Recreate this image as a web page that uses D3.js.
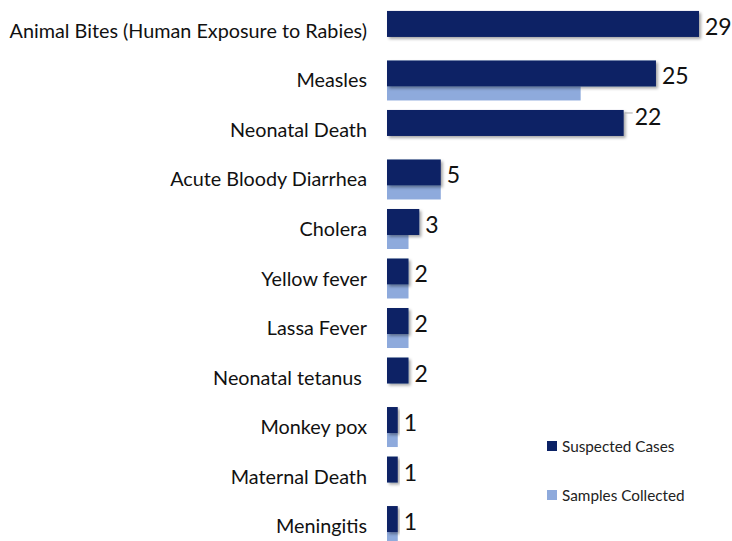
<!DOCTYPE html>
<html>
<head>
<meta charset="utf-8">
<script src="https://cdn.jsdelivr.net/npm/d3@7"></script>
<style>
  body { margin: 0; background: #fff; }
  text { font-family: Lato, "Open Sans", sans-serif; white-space: pre; }
</style>
</head>
<body>
<svg id="chart" width="732" height="541"></svg>
<script>
const categories = [
  "Animal Bites (Human Exposure to Rabies)",
  "Measles",
  "Neonatal Death",
  "Acute Bloody Diarrhea",
  "Cholera",
  "Yellow fever",
  "Lassa Fever",
  "Neonatal tetanus ",
  "Monkey pox",
  "Maternal Death",
  "Meningitis"
];
const suspectedCases = [29, 25, 22, 5, 3, 2, 2, 2, 1, 1, 1];
const samplesCollected = [0, 18, 0, 5, 2, 2, 2, 0, 1, 0, 1];
const seriesNames = ["Suspected Cases", "Samples Collected"];
const colors = ["#0b2265", "#8eaadc"];

const svg = d3.select("#chart");

// drop shadow for dark bars
const defs = svg.append("defs");
defs.append("filter")
  .attr("id", "shadow")
  .attr("x", "-10%").attr("y", "-20%")
  .attr("width", "130%").attr("height", "160%")
  .append("feDropShadow")
  .attr("dx", 2).attr("dy", 2)
  .attr("stdDeviation", 1.5)
  .attr("flood-color", "#000")
  .attr("flood-opacity", 0.35);

const x = d3.scaleLinear().domain([0, 29]).range([387, 699]);
const y = d3.scaleBand()
  .domain(categories)
  .range([6, 551])
  .paddingInner(0.192)
  .paddingOuter(0.1);

const darkH = y.bandwidth() * 0.65;
const lightH = y.bandwidth() - darkH;

const rows = categories.map((c, i) => ({
  cat: c,
  sus: suspectedCases[i],
  sam: samplesCollected[i]
}));

// light bars (samples)
svg.append("g")
  .selectAll("rect")
  .data(rows.filter(d => d.sam > 0))
  .join("rect")
  .attr("x", x(0))
  .attr("y", d => y(d.cat) + darkH)
  .attr("width", d => x(d.sam) - x(0))
  .attr("height", lightH)
  .attr("fill", colors[1]);

// dark bars (suspected)
svg.append("g")
  .selectAll("rect")
  .data(rows)
  .join("rect")
  .attr("x", x(0))
  .attr("y", d => y(d.cat))
  .attr("width", d => x(d.sus) - x(0))
  .attr("height", darkH)
  .attr("fill", colors[0])
  .attr("filter", "url(#shadow)");

// category labels
svg.append("g")
  .selectAll("text")
  .data(rows)
  .join("text")
  .attr("x", 367)
  .attr("y", d => y(d.cat) + y.bandwidth() / 2 - 1)
  .attr("text-anchor", "end")
  .attr("dominant-baseline", "central")
  .attr("font-size", 19.8)
  .attr("fill", "#111")
  .text(d => d.cat);

// value labels (the 22 one was nudged up in the original, with a leader)
const nudge = d => (d.sus === 22 ? -7 : 2);
svg.append("g")
  .selectAll("text")
  .data(rows)
  .join("text")
  .attr("x", d => x(d.sus) + (d.sus === 22 ? 11 : 6))
  .attr("y", d => y(d.cat) + darkH / 2 + nudge(d))
  .attr("dominant-baseline", "central")
  .attr("font-size", 23)
  .attr("fill", "#111")
  .text(d => d.sus);

rows.filter(d => d.sus === 22).forEach(d => {
  svg.append("line")
    .attr("x1", x(d.sus) + 1)
    .attr("x2", x(d.sus) + 9)
    .attr("y1", y(d.cat) + darkH / 2 - 10)
    .attr("y2", y(d.cat) + darkH / 2 - 10)
    .attr("stroke", "#aaa")
    .attr("stroke-width", 1);
});

// legend
const legend = svg.append("g")
  .selectAll("g")
  .data(seriesNames)
  .join("g")
  .attr("transform", (d, i) => `translate(547, ${441 + i * 49})`);

legend.append("rect")
  .attr("width", 10)
  .attr("height", 10)
  .attr("fill", (d, i) => colors[i]);

legend.append("text")
  .attr("x", 15)
  .attr("y", 5)
  .attr("dominant-baseline", "central")
  .attr("font-size", 15.3)
  .attr("fill", "#222")
  .text(d => d);
</script>
</body>
</html>
